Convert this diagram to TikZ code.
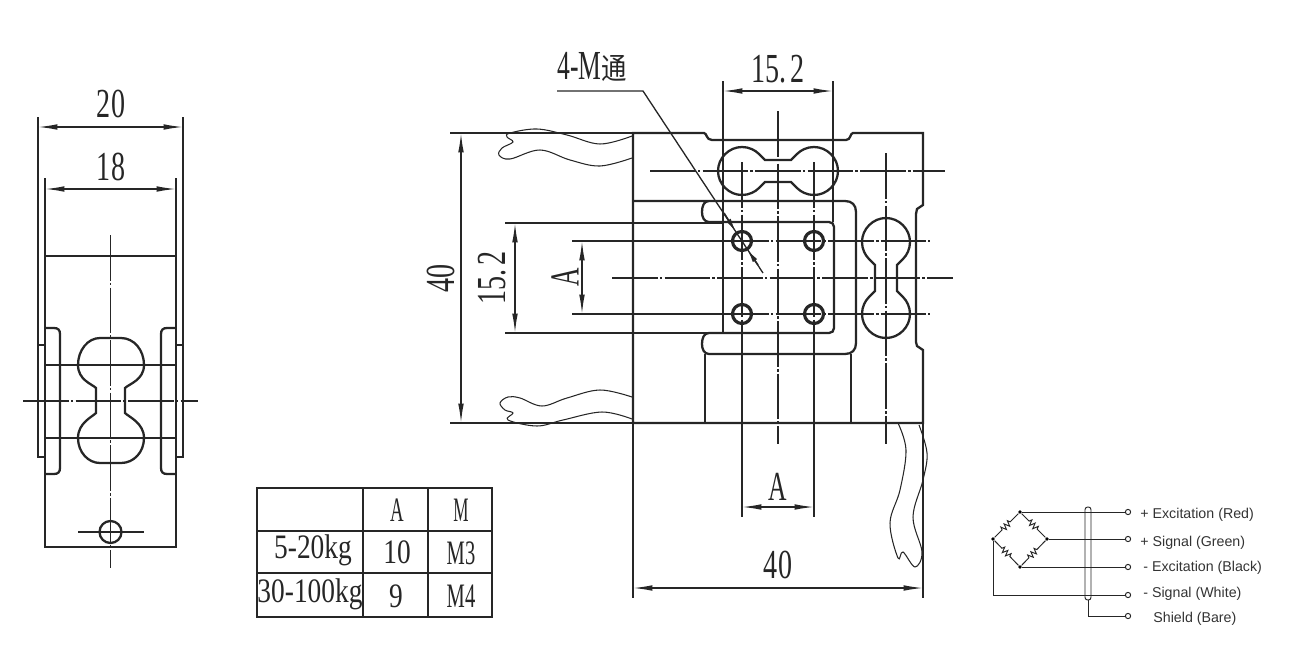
\documentclass[tikz,border=0pt]{standalone}
\usepackage{graphicx}
\usepackage{fontspec}
\setmainfont{Liberation Serif}
\newfontfamily\cjk{Noto Sans CJK SC}
\newfontfamily\lsans{Liberation Sans}
\usetikzlibrary{arrows.meta,decorations.pathmorphing}
\newcommand{\dimtxt}[2][.68]{\scalebox{#1}[1]{\fontsize{23.5}{24}\selectfont #2}}
\newcommand{\tabtxt}[2][.8]{\scalebox{#1}[1]{\fontsize{19.5}{20}\selectfont #2}}
\newcommand{\dumbbellpath}{(13,-11) -- (19,-17) .. controls (23,-21) and (29,-24) .. (36,-24) .. controls (49,-24) and (60,-13) .. (60,0) .. controls (60,13) and (49,24) .. (36,24) .. controls (29,24) and (23,21) .. (19,17) -- (13,11) -- (-13,11) -- (-19,17) .. controls (-23,21) and (-29,24) .. (-36,24) .. controls (-49,24) and (-60,13) .. (-60,0) .. controls (-60,-13) and (-49,-24) .. (-36,-24) .. controls (-29,-24) and (-23,-21) .. (-19,-17) -- (-13,-11) -- cycle}
\tikzset{
  ink/.style={black!85},
  thick line/.style={ink,line width=1.3pt},
  thin line/.style={ink,line width=.75pt},
  centre line/.style={ink,line width=.75pt,dash pattern=on 26pt off 1.2pt on 1.5pt off 1.2pt},
  wire line/.style={ink,line width=.6pt},
  dimline/.style={ink,line width=.75pt,{Latex[length=11pt,width=3.2pt]}-{Latex[length=11pt,width=3.2pt]}},
  label text/.style={ink,inner sep=0pt},
  legend text/.style={black!80,inner sep=0pt,anchor=west,font=\lsans\fontsize{8.1}{9}\selectfont},
  junction/.style={circle,fill=black,inner sep=0pt,minimum size=2.2pt},
  terminal/.style={circle,draw=black!85,line width=.55pt,fill=white,inner sep=0pt,minimum size=3pt},
  circuit wire/.style={black!85,line width=.55pt},
  resistor/.style={black!85,line width=.55pt,decorate,decoration={zigzag,segment length=2.6pt,amplitude=1.6pt,pre length=6pt,post length=6pt}}
}
\begin{document}
\begin{tikzpicture}[x=0.02cm,y=-0.02cm]
\useasboundingbox (0,0) rectangle (1295,646);
% ---------- left view ----------
\draw[thin line] (38,117)--(38,345) (183,117)--(183,345) (45,178)--(45,256) (176,178)--(176,256);
\draw[dimline] (38,127)--(183,127);
\draw[dimline] (45,189)--(176,189);
\node[label text] (d20) at (111,104) {\dimtxt{20}};
\node[label text] (d18) at (111,167) {\dimtxt{18}};
\draw[thick line] (45,256) rectangle (176,547);
\draw[thick line] (45,328)--(54,328) .. controls (58,328) and (60,330) .. (60,334)--(60,468) .. controls (60,472) and (58,474) .. (54,474)--(45,474);
\draw[thick line] (176,328)--(167,328) .. controls (163,328) and (161,330) .. (161,334)--(161,468) .. controls (161,472) and (163,474) .. (167,474)--(176,474);
\draw[thick line] (45,345)--(38,345)--(38,457)--(45,457);
\draw[thick line] (176,345)--(183,345)--(183,457)--(176,457);
\draw[thick line] (96,388) .. controls (92,384) and (78,380) .. (78,365) .. controls (78,350) and (88,338) .. (100,338) -- (121,338) .. controls (134,338) and (144,350) .. (144,365) .. controls (144,380) and (129,384) .. (125,388) -- (125,413) .. controls (129,417) and (144,423) .. (144,438) .. controls (144,452) and (134,463) .. (121,463) -- (100,463) .. controls (88,463) and (78,452) .. (78,438) .. controls (78,423) and (92,417) .. (96,413) -- cycle;
\draw[thin line] (45,365)--(176,365) (45,438)--(176,438);
\draw[centre line] (110.5,235)--(110.5,568);
\draw[centre line] (23,401)--(198,401);
\draw[thick line] (110.5,532) circle[radius=11];
\draw[thin line] (78,532)--(144,532);
% ---------- main view: dimension and axis lines ----------
\node[label text] (dlead) at (592,67) {\scalebox{.62}[1]{\fontsize{23.5}{24}\selectfont 4-M}\scalebox{.85}[1]{\cjk\fontsize{17}{18}\selectfont 通}};
\draw[thin line] (557,91)--(643,91)--(763,273);
\draw[ink,line width=.9pt,-{Latex[length=8pt,width=3pt]}] (724,213)--(736,232);
\draw[ink,line width=.9pt,-{Latex[length=8pt,width=3pt]}] (758,265)--(747,249);
\draw[thin line] (450,133)--(633,133) (450,423)--(633,423);
\draw[dimline] (461,133)--(461,423);
\node[label text,rotate=90] (d40v) at (441,278) {\dimtxt{40}};
\draw[thin line] (505,223)--(723,223) (505,333)--(723,333);
\draw[dimline] (515,223)--(515,333);
\node[label text,rotate=90] (d152v) at (492,278) {\dimtxt{15.\,2}};
\draw[thin line] (572,241)--(723,241) (572,314)--(723,314);
\draw[dimline] (582,241)--(582,314);
\node[label text,rotate=90] (dav) at (565,277) {\dimtxt[.62]{A}};
\draw[thin line] (723,81)--(723,222) (833,81)--(833,222);
\draw[dimline] (723,91)--(833,91);
\node[label text] (d152h) at (778,69) {\dimtxt{15.\,2}};
\draw[thin line] (742,354)--(742,517) (814,354)--(814,517);
\draw[dimline] (742,507)--(814,507);
\node[label text] (dah) at (778,487) {\dimtxt[.62]{A}};
\draw[thin line] (633,423)--(633,598) (923,423)--(923,598);
\draw[dimline] (633,588)--(923,588);
\node[label text] (d40h) at (778,565) {\dimtxt{40}};
\draw[centre line] (650,171)--(945,171);
\draw[centre line] (612,278)--(953,278);
\draw[centre line] (723,241)--(930,241);
\draw[centre line] (723,314)--(930,314);
\draw[centre line] (778,111)--(778,444);
\draw[centre line] (886,153)--(886,444);
\draw[centre line] (742,162)--(742,354);
\draw[centre line] (814,162)--(814,354);
% ---------- main view: body ----------
\draw[thick line] (633,133)--(704,133) .. controls (707,133) and (706,140) .. (712,140)--(846,140) .. controls (851,140) and (850,133) .. (853,133)--(923,133)--(923,205)--(917,209)--(916,214)--(916,342)--(917,346)--(923,350)--(923,423)--(633,423)--cycle;
\draw[thick line] (633,201)--(845,201) .. controls (852,201) and (856,205) .. (856,212)--(856,343) .. controls (856,350) and (852,354) .. (845,354)--(709,354) .. controls (704,354) and (702,349) .. (702,344) .. controls (702,338) and (704,333) .. (709,333)--(829,333) .. controls (832,333) and (834,331) .. (834,328)--(834,227) .. controls (834,224) and (832,222) .. (829,222)--(709,222) .. controls (704,222) and (702,217) .. (702,212) .. controls (702,206) and (704,201) .. (709,201);
\draw[thick line] (723,222)--(723,333);
\draw[thick line] (705,354)--(705,423) (851,354)--(851,423);
\begin{scope}[shift={(778,171)}]
  \draw[thick line] \dumbbellpath;
\end{scope}
\begin{scope}[shift={(886,278)},rotate=90]
  \draw[thick line] \dumbbellpath;
\end{scope}
\foreach \hx/\hy in {742/241,814/241,742/314,814/314}
  \draw[ink,line width=1.8pt] (\hx,\hy) circle[radius=9.5];
% ---------- cables ----------
\draw[wire line] plot[smooth,tension=.6] coordinates {(632,136) (600,144) (567,135) (537,129) (510,133) (507,137) (513,142) (502,148) (499,155) (510,159) (540,150) (570,160) (600,166) (632,158)};
\draw[wire line] plot[smooth,tension=.6] coordinates {(632,397) (600,390) (567,398) (542,406) (520,398) (508,397) (500,403) (505,410) (513,413) (508,420) (537,426) (563,420) (602,412) (632,419)};
\draw[wire line] plot[smooth,tension=.6] coordinates {(898,423) (906,450) (900,490) (890,523) (898,558) (903,552) (915,567) (922,552) (913,517) (923,480) (927,453) (919,425)};
% ---------- table ----------
\draw[thick line] (257,488) rectangle (492,617);
\draw[thick line] (363,488)--(363,617) (428,488)--(428,617) (257,531)--(492,531) (257,573)--(492,573);
\node[label text] (ta) at (397,510) {\tabtxt[.55]{A}};
\node[label text] (tm) at (461,510) {\tabtxt[.5]{M}};
\node[label text] (tr1) at (313,550) {\tabtxt{5-20kg}};
\node[label text] (t10) at (397,552) {\tabtxt{10}};
\node[label text] (tm3) at (461,553) {\tabtxt[.6]{M3}};
\node[label text] (tr2) at (310,594) {\tabtxt{30-100kg}};
\node[label text] (t9) at (396,596) {\tabtxt{9}};
\node[label text] (tm4) at (461,596) {\tabtxt[.6]{M4}};
% ---------- circuit ----------
\node[junction] (nt) at (1020,512) {};
\node[junction] (nr) at (1047,539) {};
\node[junction] (nb) at (1020,567) {};
\node[junction] (nl) at (993,539) {};
\node[terminal] (t1) at (1128,512) {};
\node[terminal] (t2) at (1128,539) {};
\node[terminal] (t3) at (1128,567) {};
\node[terminal] (t4) at (1128,595) {};
\node[terminal] (t5) at (1128,616) {};
\coordinate (cnr) at (993,595);
\coordinate (shtop) at (1088,600);
\coordinate (shbot) at (1088,616);
\draw[resistor] (nl)--(nt);
\draw[resistor] (nt)--(nr);
\draw[resistor] (nl)--(nb);
\draw[resistor] (nb)--(nr);
\draw[circuit wire] (nt)--(t1);
\draw[circuit wire] (nr)--(t2);
\draw[circuit wire] (nb)--(t3);
\draw[circuit wire] (nl)--(cnr)--(t4);
\draw[circuit wire] (shtop)--(shbot)--(t5);
\draw[circuit wire,rounded corners=1.5pt] (1085,507) rectangle (1091,600);
\node[legend text] (l1) at (1140,515) {+ Excitation (Red)};
\node[legend text] (l2) at (1140,543) {+ Signal (Green)};
\node[legend text] (l3) at (1143,568) {- Excitation (Black)};
\node[legend text] (l4) at (1143,594) {- Signal (White)};
\node[legend text] (l5) at (1153,619) {Shield (Bare)};
\end{tikzpicture}
\end{document}
